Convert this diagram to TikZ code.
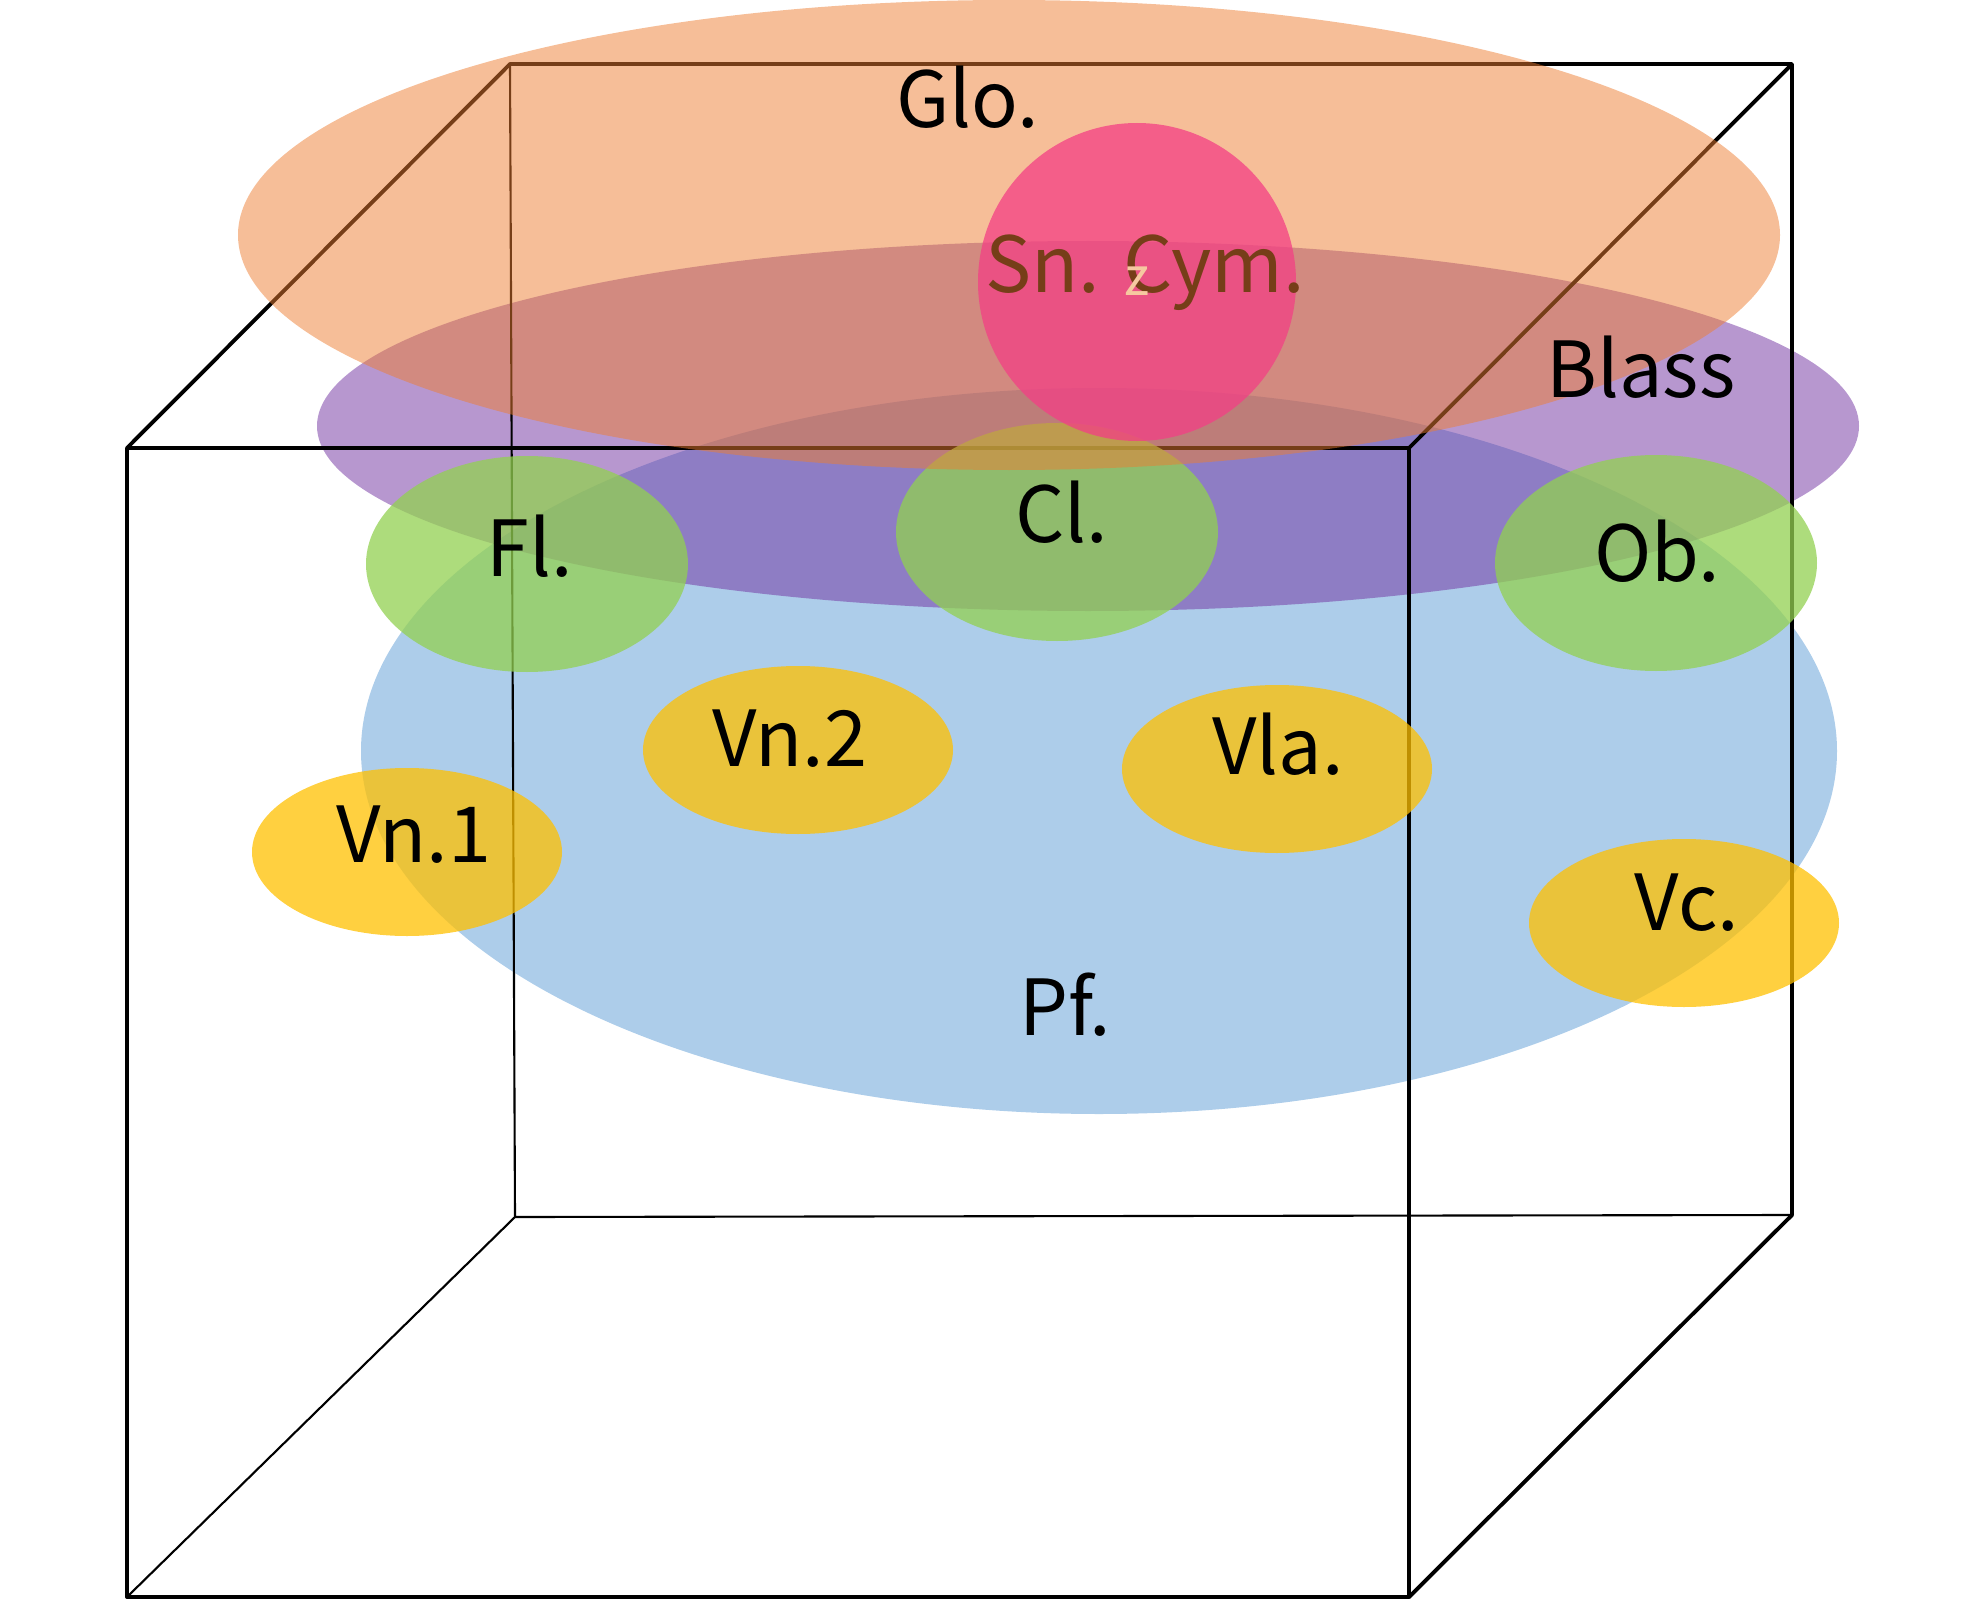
\documentclass[tikz,border=0pt]{standalone}
\usepackage{fontspec}
\setmainfont{Noto Sans CJK JP}
\definecolor{pfblue}{HTML}{5B9BD5}
\definecolor{blasspurple}{HTML}{7030A0}
\definecolor{windgreen}{HTML}{92D050}
\definecolor{strgyellow}{HTML}{FFC000}
\definecolor{gloorange}{HTML}{ED7D31}
\definecolor{cympink}{RGB}{243,63,133}
\definecolor{cymbrown}{RGB}{118,62,24}
\definecolor{zpeach}{RGB}{246,200,160}
\begin{document}
\begin{tikzpicture}[
  x=0.01cm,y=-0.01cm,
  section/.style={font=\fontsize{22}{26}\selectfont,anchor=base,inner sep=0pt},
  frontedge/.style={line width=1.1pt,line join=round},
  backedge/.style={line width=0.6pt,line join=round},
  pffill/.style={fill=pfblue,fill opacity=0.5},
  blassfill/.style={fill=blasspurple,fill opacity=0.5},
  windfill/.style={fill=windgreen,fill opacity=0.75},
  strgfill/.style={fill=strgyellow,fill opacity=0.75},
  glofill/.style={fill=gloorange,fill opacity=0.5},
  cymfill/.style={fill=cympink,fill opacity=0.75}
]
  \useasboundingbox (0,0) rectangle (1984,1600);

  \fill[pffill] (1099,751) ellipse [x radius=738, y radius=363];
  \fill[blassfill] (1088,426) ellipse [x radius=771, y radius=185];

  \coordinate (fTL) at (127,448);
  \coordinate (fTR) at (1409,448);
  \coordinate (fBR) at (1409,1597);
  \coordinate (fBL) at (127,1597);
  \coordinate (bTL) at (510,64);
  \coordinate (bTR) at (1792,64);
  \coordinate (bBR) at (1792,1215);
  \coordinate (bBL) at (515,1217);

  \draw[backedge] (bTL) -- (bBL) -- (bBR);
  \draw[backedge] (fBL) -- (bBL);
  \draw[frontedge] (fTL) -- (bTL) -- (bTR) -- (bBR) -- (fBR);
  \draw[frontedge] (fTR) -- (bTR);
  \draw[frontedge] (fTL) rectangle (fBR);

  \fill[windfill] (527,564) ellipse [x radius=161, y radius=108];
  \fill[windfill] (1057,532) ellipse [x radius=161, y radius=109];
  \fill[windfill] (1656,563) ellipse [x radius=161, y radius=108];

  \fill[strgfill] (407,852) ellipse [x radius=155, y radius=84];
  \fill[strgfill] (798,750) ellipse [x radius=155, y radius=84];
  \fill[strgfill] (1277,769) ellipse [x radius=155, y radius=84];
  \fill[strgfill] (1684,923) ellipse [x radius=155, y radius=84];

  \fill[glofill] (1009,235) ellipse [x radius=771, y radius=235];
  \fill[cymfill] (1137,282) circle [radius=159];

  \node[section] (glo) at (968,128) {Glo.};
  \node[section,text=cymbrown] (cym) at (1145,293) {Sn. Cym.};
  \node[anchor=base,inner sep=0pt,text=zpeach,font=\fontsize{15}{18}\selectfont] (zax) at (1137,295) {z};
  \node[section] (blass) at (1641,397) {Blass};
  \node[section] (fl) at (530,576) {Fl.};
  \node[section] (cl) at (1062,542) {Cl.};
  \node[section] (ob) at (1657,581) {Ob.};
  \node[section] (vn2) at (790,766) {Vn.2};
  \node[section] (vla) at (1278,774) {Vla.};
  \node[section] (vn1) at (414,862) {Vn.1};
  \node[section] (vc) at (1687,930) {Vc.};
  \node[section] (pf) at (1065,1035) {Pf.};
\end{tikzpicture}
\end{document}
